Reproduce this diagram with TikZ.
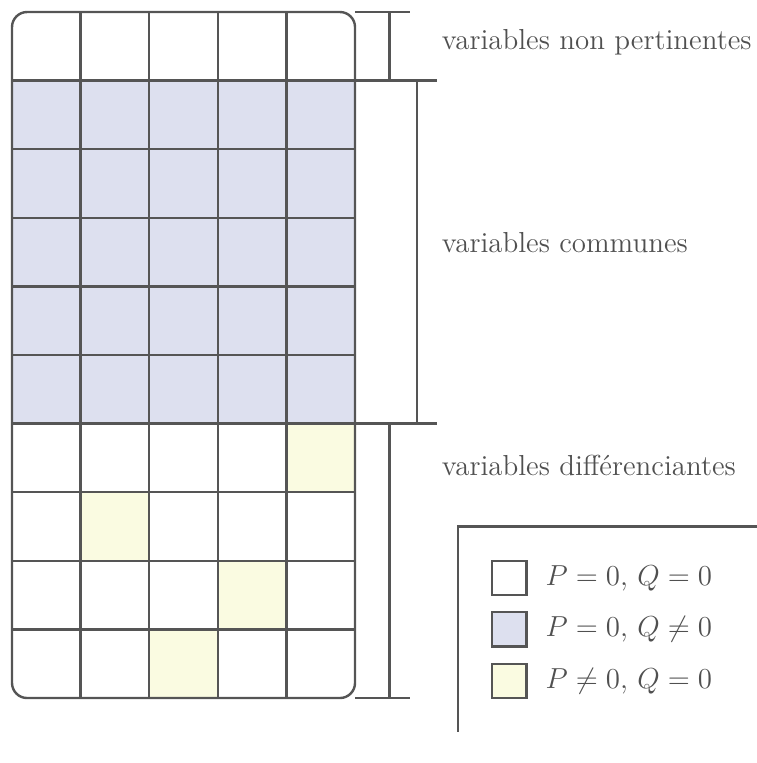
\documentclass[tikz,border=0pt]{standalone}
\usetikzlibrary{positioning}
\definecolor{linegray}{HTML}{555555}
\definecolor{textgray}{HTML}{505050}
\definecolor{cellblue}{HTML}{DDE0EF}
\definecolor{cellyellow}{HTML}{FAFBE1}
\tikzset{
  gridline/.style={draw=linegray, line width=1pt},
  bracketline/.style={draw=linegray, line width=1pt},
  lbl/.style={anchor=base west, inner sep=0pt, text=textgray, font=\large},
  legtext/.style={anchor=west, inner sep=0pt, text=textgray, font=\large},
  legbox/.style={draw=linegray, line width=1pt, minimum size=0.5cm, inner sep=0pt}
}
\begin{document}
\begin{tikzpicture}
\useasboundingbox (-0.175,0.175) rectangle (10.845,-10.947);
% fills
\fill[cellblue] (0,-1) rectangle (5,-6);
\fill[cellyellow] (4,-6) rectangle (5,-7);
\fill[cellyellow] (1,-7) rectangle (2,-8);
\fill[cellyellow] (3,-8) rectangle (4,-9);
\fill[cellyellow] (2,-9) rectangle (3,-10);
% inner grid lines
\foreach \x in {1,2,3,4} \draw[gridline] (\x,0) -- (\x,-10);
\foreach \y in {1,...,9} \draw[gridline] (0,-\y) -- (5,-\y);
% yellow cell borders
\draw[gridline] (4,-6) rectangle (5,-7);
\draw[gridline] (1,-7) rectangle (2,-8);
\draw[gridline] (3,-8) rectangle (4,-9);
\draw[gridline] (2,-9) rectangle (3,-10);
% outer frame
\draw[gridline, rounded corners=0.22cm] (0,0) rectangle (5,-10);
% brackets
\draw[bracketline] (5,0) -- (5.8,0);
\draw[bracketline] (5.5,0) -- (5.5,-1);
\draw[bracketline] (5,-1) -- (6.2,-1);
\draw[bracketline] (5.9,-1) -- (5.9,-6);
\draw[bracketline] (5,-6) -- (6.2,-6);
\draw[bracketline] (5.5,-6) -- (5.5,-10);
\draw[bracketline] (5,-10) -- (5.8,-10);
% labels
\node[lbl] (np) at (6.26,-0.55) {variables non pertinentes};
\node[lbl] (vc) at (6.26,-3.5) {variables communes};
\node[lbl] (vd) at (6.26,-6.76) {variables différenciantes};
% legend
\draw[bracketline] (11,-7.5) -- (6.5,-7.5) -- (6.5,-10.5);
\node[legbox, fill=white] (l1) at (7.25,-8.25) {};
\node[legbox, fill=cellblue] (l2) at (7.25,-9.0) {};
\node[legbox, fill=cellyellow] (l3) at (7.25,-9.75) {};
\node[legtext] (t1) at (7.77,-8.25) {$P=0$, $Q=0$};
\node[legtext] (t2) at (7.77,-9.0) {$P=0$, $Q\neq0$};
\node[legtext] (t3) at (7.77,-9.75) {$P\neq0$, $Q=0$};
\end{tikzpicture}
\end{document}
